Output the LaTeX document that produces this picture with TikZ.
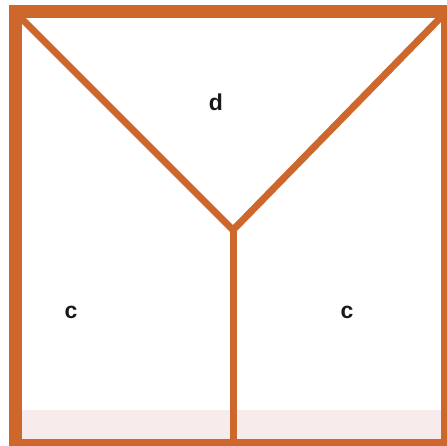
\documentclass[tikz,border=0pt]{standalone}
\usepackage{fontspec}
\setmainfont{Liberation Sans}
\usetikzlibrary{positioning}
\definecolor{frame}{HTML}{CD672C}
\definecolor{bleed}{HTML}{F7ECEB}
\tikzset{border/.style={draw=frame,line width=13pt},
  cut/.style={draw=frame,line width=7pt},
  piece/.style={anchor=base,font=\bfseries\fontsize{23}{23}\selectfont,text=black!90}}
\begin{document}
\begin{tikzpicture}[x=1pt,y=-1pt]
\useasboundingbox (0,0) rectangle (446,446);
\fill[bleed] (15,410) rectangle (446,444);
\coordinate (tl) at (15,12);\coordinate (tr) at (446,12);
\coordinate (bl) at (15,445);\coordinate (br) at (447,445);
\coordinate (mid) at (233,230);\coordinate (bm) at (233,445);
\draw[cut] (tl)--(mid)--(tr);
\draw[cut] (mid)--(bm);
\draw[border] (tl) rectangle (br);
\node[piece] (d) at (216,111) {d};
\node[piece] (cl) at (71,318) {c};
\node[piece] (cr) at (347,318) {c};
\end{tikzpicture}
\end{document}
